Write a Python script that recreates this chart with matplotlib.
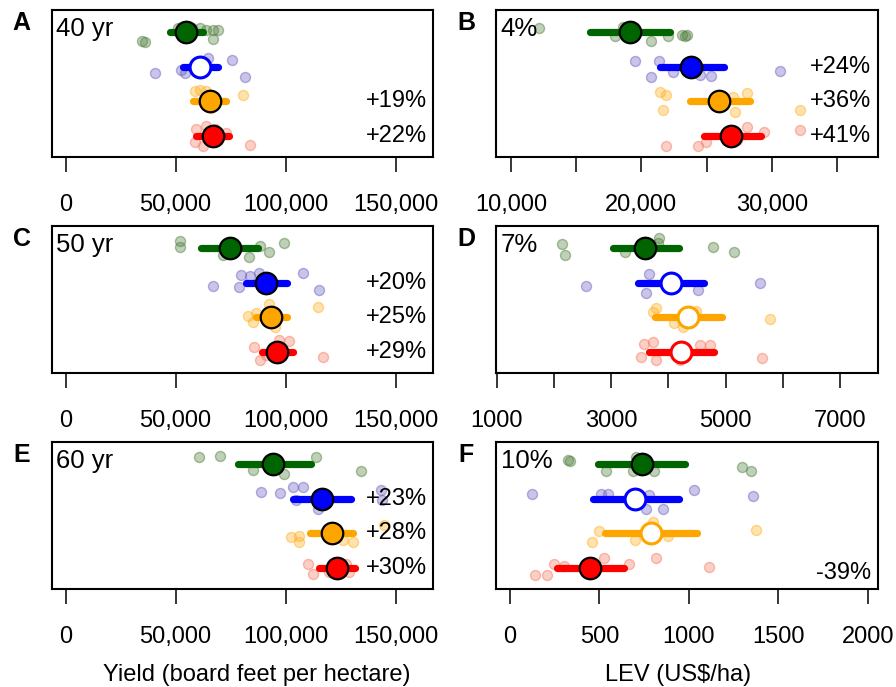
import numpy as np
import matplotlib.pyplot as plt
import matplotlib

matplotlib.rcParams.update({'font.size': 17, 'font.family': ['Liberation Sans', 'DejaVu Sans']})

# ordem das linhas: verde (topo), azul, laranja, vermelho
cores = ['darkgreen', 'blue', 'orange', 'red']
cores_pts = ['#4f7f3a', '#6a5fc0', '#ffb020', '#f47a60']
linhas = [4, 3, 2, 1]

# ---- painel A: 40 yr (rendimento)
a_media = [54800, 61200, 65400, 66900]
a_ic = [[47400, 62300], [53400, 69100], [58000, 72900], [59400, 74400]]
a_cheio = [True, False, True, True]
a_px = [[34500, 36200, 51000, 57500, 61000, 64000, 67000, 69200, 67000],
        [40800, 52600, 54100, 64700, 75700, 81300, 63000],
        [58600, 60900, 63900, 80500, 66200, 68000],
        [59400, 63900, 58600, 62400, 73000, 83600, 68000]]
a_dy = [[-0.25, -0.28, 0.12, 0.12, 0.10, 0.06, 0.05, 0.05, -0.22],
        [-0.19, -0.10, -0.19, 0.24, 0.19, -0.31, -0.10],
        [0.30, 0.31, 0.30, 0.17, -0.21, 0.10],
        [0.21, 0.28, -0.17, -0.29, 0.07, -0.27, 0.20]]
a_rot = ['', '', '+19%', '+22%']

# ---- painel B: 4% (LEV)
b_media = [19150, 23800, 25920, 26870]
b_ic = [[16040, 22170], [21420, 26320], [23730, 28320], [24760, 29140]]
b_cheio = [True, True, True, True]
b_px = [[12130, 17950, 20770, 22050, 23080, 23330, 23460, 18600],
        [19540, 21360, 20720, 22440, 24490, 25310, 30590],
        [21460, 21870, 21620, 27180, 28080, 32180, 27050],
        [21920, 24360, 24950, 28080, 29360, 32130, 27310]]
b_dy = [[0.12, -0.13, -0.27, -0.13, -0.08, -0.11, -0.08, 0.15],
        [0.17, 0.17, -0.29, -0.17, -0.24, -0.27, -0.12],
        [0.27, 0.19, -0.26, -0.31, 0.24, -0.24, 0.12],
        [-0.29, -0.29, -0.17, 0.26, 0.12, 0.17, -0.13]]
b_rot = ['', '+24%', '+36%', '+41%']

# ---- painel C: 50 yr
c_media = [74500, 91100, 93100, 95900]
c_ic = [[61700, 87200], [81800, 100800], [86400, 100400], [89400, 103100]]
c_cheio = [True, True, True, True]
c_px = [[51800, 51800, 71400, 83500, 92600, 99400, 88100],
        [66900, 79800, 83700, 87800, 79000, 108000, 115000],
        [82900, 85100, 86600, 92600, 94900, 114500],
        [85800, 88100, 97100, 101700, 116800, 91100]]
c_dy = [[0.21, 0.02, -0.22, -0.27, -0.13, 0.14, 0.05],
        [-0.10, 0.21, 0.18, 0.26, -0.14, 0.26, -0.22],
        [0.04, -0.13, 0.13, 0.38, -0.27, 0.28],
        [0.14, -0.24, 0.34, 0.32, -0.16, -0.10]]
c_rot = ['', '+20%', '+25%', '+29%']

# ---- painel D: 7%
d_media = [3593, 4048, 4339, 4223]
d_ic = [[3030, 4190], [3468, 4628], [3771, 4931], [3654, 4803]]
d_cheio = [True, False, False, False]
d_px = [[2142, 2200, 3250, 3844, 3815, 4777, 5138],
        [2562, 3669, 3611, 4514, 5592],
        [3727, 3786, 4106, 4252, 4485, 5767],
        [3582, 3727, 3524, 3786, 4543, 4718, 5639, 4194]]
d_dy = [[0.12, -0.20, -0.13, 0.28, 0.14, 0.02, -0.13],
        [-0.09, 0.25, -0.29, -0.21, -0.02],
        [0.16, 0.26, -0.17, -0.27, 0.19, -0.05],
        [0.22, 0.29, -0.14, -0.24, 0.19, 0.19, -0.17, -0.24]]
d_rot = ['', '', '', '']

# ---- painel E: 60 yr
e_media = [94100, 116500, 121000, 123100]
e_ic = [[78300, 111400], [103300, 129600], [111100, 130600], [115100, 131500]]
e_cheio = [True, True, True, True]
e_px = [[60600, 70200, 85100, 99000, 113800, 134200],
        [88800, 97400, 103200, 107700, 114500, 143200, 143600, 104700],
        [102400, 106200, 106200, 125900, 130400, 144700],
        [110000, 112300, 119800, 127400, 128900]]
e_dy = [[0.21, 0.23, -0.17, -0.29, 0.21, -0.22],
        [0.19, 0.16, 0.32, 0.34, -0.29, 0.24, -0.03, -0.05],
        [-0.12, -0.07, -0.26, -0.21, -0.26, 0.25],
        [0.10, -0.17, -0.12, 0.12, -0.12]]
e_rot = ['', '+23%', '+28%', '+30%']

# ---- painel F: 10%
f_media = [738, 699, 788, 447]
f_ic = [[492, 979], [464, 942], [529, 1048], [262, 638]]
f_cheio = [True, False, False, True]
f_px = [[322, 336, 537, 686, 705, 807, 1296, 1348],
        [123, 509, 546, 779, 761, 857, 1031, 1361],
        [459, 496, 699, 798, 882, 1376],
        [140, 205, 248, 304, 528, 667, 816, 1115]]
f_dy = [[0.10, 0.07, -0.22, -0.22, 0.21, -0.22, -0.10, -0.22],
        [0.13, 0.13, 0.13, 0.10, -0.29, -0.29, 0.24, 0.07],
        [-0.26, 0.06, -0.21, 0.32, -0.07, 0.10],
        [-0.21, -0.21, 0.10, 0.05, 0.29, 0.10, 0.27, 0.02]]
f_rot = ['', '', '', '-39%']

ticks_rend = [0, 50000, 100000, 150000]
rot_rend = ['0', '50,000', '100,000', '150,000']

fig = plt.figure(figsize=(8.96, 6.87), dpi=100)
W, H = 896., 687.


def painel(pos, letra, titulo, media, ic, cheio, px, dy, rot, xlim, ticks, rotulos):
    x0, fundo = pos
    ax = fig.add_axes([x0 / W, 1 - fundo / H, 381.5 / W, 147 / H])
    for i in range(4):
        y = linhas[i] + np.array(dy[i])
        ax.scatter(px[i], y, s=52, facecolor=matplotlib.colors.to_rgba(cores_pts[i], 0.36),
                   edgecolor=matplotlib.colors.to_rgba(cores_pts[i], 0.48), linewidth=1, zorder=1)
    for i in range(4):
        ax.plot(ic[i], [linhas[i], linhas[i]], '-', color=cores[i], linewidth=5.2,
                solid_capstyle='round', zorder=2)
        if cheio[i]:
            ax.plot(media[i], linhas[i], 'o', markersize=15.5, markerfacecolor=cores[i],
                    markeredgecolor='black', markeredgewidth=1.6, zorder=3)
        else:
            ax.plot(media[i], linhas[i], 'o', markersize=15, markerfacecolor='white',
                    markeredgecolor=cores[i], markeredgewidth=2.2, zorder=3)
        if rot[i]:
            dyt = -0.15 if rot[i].startswith('-') else 0
            ax.text(0.984, linhas[i] + dyt, rot[i], transform=ax.get_yaxis_transform(),
                    ha='right', va='center')
    ax.set_xlim(xlim)
    ax.set_ylim(0.39, 4.63)
    ax.set_yticks([])
    ax.set_xticks(ticks)
    ax.set_xticklabels(rotulos)
    ax.tick_params(axis='x', length=10.8, width=1.1, pad=16)
    for s in ax.spines.values():
        s.set_linewidth(1.5)
    ax.text(0.012, 0.871, titulo, transform=ax.transAxes, ha='left', va='center',
            fontsize=18.5)
    fig.text((x0 - 30) / W, 1 - (fundo - 134) / H, letra, fontweight='bold',
             ha='center', va='center', fontsize=18)
    return ax


esq, dir_ = 51.5, 496
painel((esq, 157), 'A', '40 yr', a_media, a_ic, a_cheio, a_px, a_dy, a_rot,
       (-6400, 166900), ticks_rend, rot_rend)
painel((dir_, 157), 'B', '4%', b_media, b_ic, b_cheio, b_px, b_dy, b_rot,
       (8850, 38100), [10000, 15000, 20000, 25000, 30000, 35000],
       ['10,000', '', '20,000', '', '30,000', ''])
painel((esq, 373), 'C', '50 yr', c_media, c_ic, c_cheio, c_px, c_dy, c_rot,
       (-6400, 166900), ticks_rend, rot_rend)
painel((dir_, 373), 'D', '7%', d_media, d_ic, d_cheio, d_px, d_dy, d_rot,
       (990, 7650), [1000, 2000, 3000, 4000, 5000, 6000, 7000],
       ['1000', '', '3000', '', '5000', '', '7000'])
painel((esq, 589), 'E', '60 yr', e_media, e_ic, e_cheio, e_px, e_dy, e_rot,
       (-6400, 166900), ticks_rend, rot_rend)
painel((dir_, 589), 'F', '10%', f_media, f_ic, f_cheio, f_px, f_dy, f_rot,
       (-78, 2054), [0, 500, 1000, 1500, 2000], ['0', '500', '1000', '1500', '2000'])

fig.text(257 / W, 1 - 675 / H, 'Yield (board feet per hectare)', ha='center', va='center')
fig.text(678 / W, 1 - 675 / H, 'LEV (US$/ha)', ha='center', va='center')

fig.savefig('out.png', dpi=100)
